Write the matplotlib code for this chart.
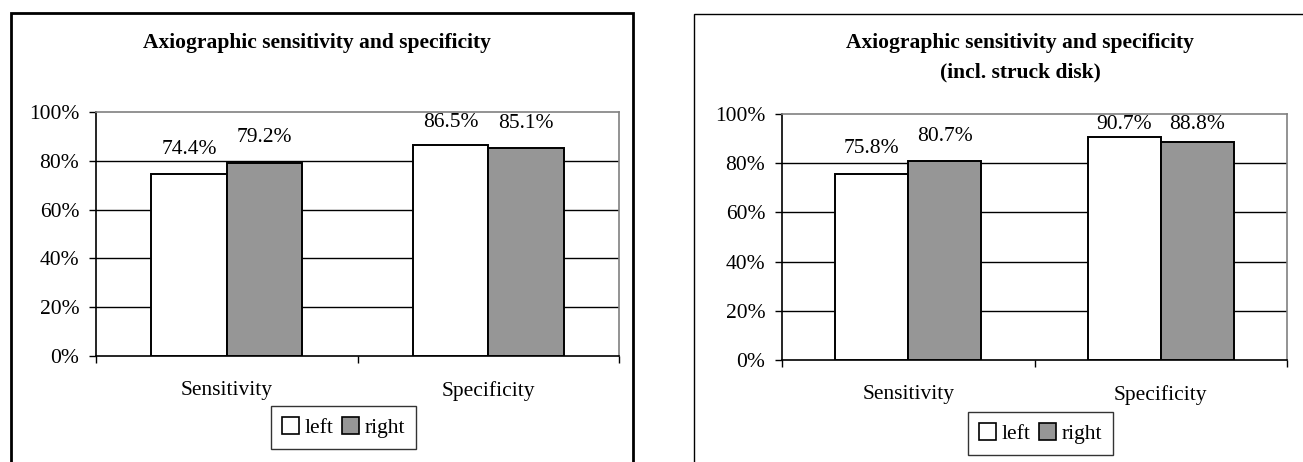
import matplotlib
matplotlib.use("Agg")
import matplotlib.pyplot as plt
import numpy as np
from matplotlib.patches import Rectangle, Patch

plt.rcParams['font.family'] = ['Liberation Serif', 'DejaVu Serif']

categories = ["Sensitivity", "Specificity"]
series_names = ["left", "right"]
left_chart_left = [74.4, 86.5]
left_chart_right = [79.2, 85.1]
right_chart_left = [75.8, 90.7]
right_chart_right = [80.7, 88.8]
yticks = [0, 20, 40, 60, 80, 100]
ytick_labels = ["0%", "20%", "40%", "60%", "80%", "100%"]
title_left = "Axiographic sensitivity and specificity"
title_right = "Axiographic sensitivity and specificity\n(incl. struck disk)"

W, H = 1303, 462
fig = plt.figure(figsize=(W / 100, H / 100), dpi=100)

def fx(px):
    return px / W

def fy(py):
    return 1 - py / H

# panel borders
fig.patches.append(Rectangle((fx(11), fy(480)), fx(633) - fx(11), fy(13) - fy(480),
                             transform=fig.transFigure, fill=False, ec='black', lw=2.0))
fig.patches.append(Rectangle((fx(694), fy(480)), fx(1320) - fx(694), fy(14) - fy(480),
                             transform=fig.transFigure, fill=False, ec='black', lw=1.0))

GRAY = '#969696'
FS = 15.5
TFS = 15.5

def make_panel(x0, x1, ytop, ybot, lvals, rvals, title, title_xy, legend_xy):
    ax = fig.add_axes([fx(x0), fy(ybot), fx(x1) - fx(x0), fy(ytop) - fy(ybot)])
    x = np.arange(len(categories))
    bw = 0.289
    b1 = ax.bar(x - bw / 2, lvals, bw, color='white', edgecolor='black', lw=1.4, zorder=3)
    b2 = ax.bar(x + bw / 2, rvals, bw, color=GRAY, edgecolor='black', lw=1.4, zorder=3)
    px_per_unit = (ybot - ytop) / 100.0
    off = 25.0 / px_per_unit      # label centre above bar top
    half_h = 10.5 / px_per_unit   # half label height; labels stay inside plot area
    for bars, vals in ((b1, lvals), (b2, rvals)):
        for b, v in zip(bars, vals):
            ylab = min(v + off, 100 - half_h)
            ax.text(b.get_x() + b.get_width() / 2, ylab, f"{v:.1f}%",
                    ha='center', va='center', fontsize=FS, zorder=4)
    ax.set_xlim(-0.5, 1.5)
    ax.set_ylim(0, 100)
    ax.set_yticks(yticks)
    ax.set_yticklabels(ytick_labels, fontsize=FS)
    for yv in yticks[1:-1]:
        ax.axhline(yv, color='black', lw=1.0, zorder=1)
    ax.set_xticks(x)
    ax.set_xticklabels(categories, fontsize=FS)
    ax.set_xticks([-0.5, 0.5, 1.5], minor=True)
    ax.tick_params(axis='x', which='major', length=0, pad=18)
    ax.tick_params(axis='x', which='minor', length=5, width=1, direction='out')
    ax.tick_params(axis='y', length=5, width=1, direction='out', pad=7)
    for s in ('top', 'right'):
        ax.spines[s].set_color('#808080')
        ax.spines[s].set_linewidth(1.2)
    for s in ('left', 'bottom'):
        ax.spines[s].set_color('black')
        ax.spines[s].set_linewidth(1.2)
    fig.text(fx(title_xy[0]), fy(title_xy[1]), title, ha='center', va='center',
             fontsize=TFS, fontweight='bold', linespacing=1.62)
    handles = [Patch(facecolor='white', edgecolor='black', lw=1.2),
               Patch(facecolor=GRAY, edgecolor='black', lw=1.2)]
    leg = fig.legend(handles, series_names, loc='center',
                     bbox_to_anchor=(fx(legend_xy[0]), fy(legend_xy[1])),
                     bbox_transform=fig.transFigure, ncol=2, fontsize=FS,
                     frameon=True, fancybox=False, edgecolor='black',
                     handlelength=0.8, handleheight=0.8, handletextpad=0.25,
                     columnspacing=0.4, borderpad=0.5, borderaxespad=0)
    leg.get_frame().set_linewidth(1.0)
    return ax

make_panel(96, 619, 112, 356, left_chart_left, left_chart_right, title_left,
           (317, 43), (343.5, 427.5))
make_panel(782, 1287, 114, 360, right_chart_left, right_chart_right, title_right,
           (1020, 57.5), (1040.5, 433.5))

fig.savefig("out.png", dpi=100)
